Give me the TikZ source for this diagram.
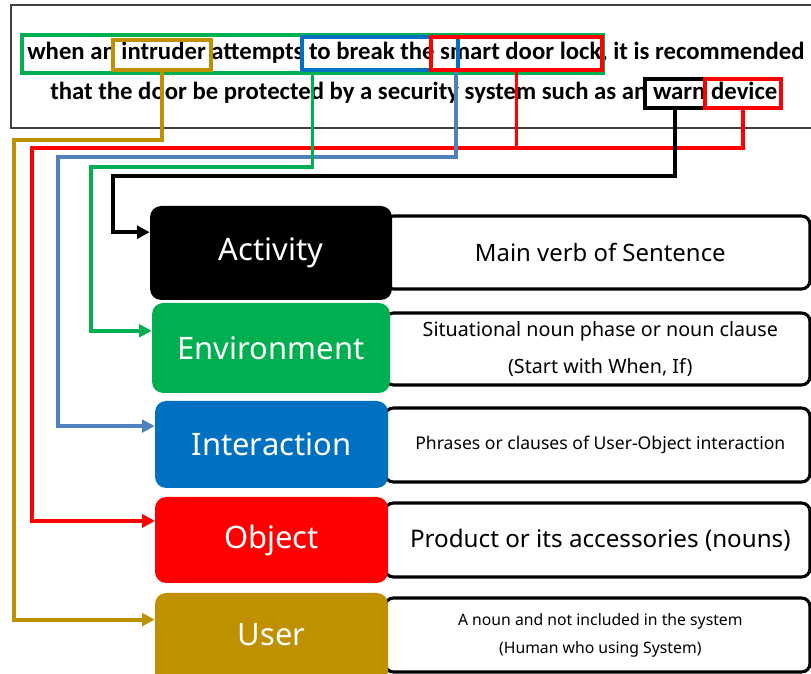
\documentclass[tikz,border=0pt]{standalone}
\usepackage{fontspec}
\setmainfont{Noto Sans}
\newfontfamily\sentfont{Carlito}
\usetikzlibrary{fit,calc,arrows.meta}

\definecolor{envgreen}{HTML}{00B050}
\definecolor{intblue}{HTML}{0070C0}
\definecolor{linkblue}{HTML}{4F81BD}
\definecolor{objred}{HTML}{FF0000}
\definecolor{usergold}{HTML}{BF9000}

\tikzset{
  wordframe/.style={draw=#1, line width=2.5pt, inner sep=0pt},
  sentline/.style={anchor=west, inner sep=0pt, font=\sentfont\bfseries\fontsize{17.6}{20}\selectfont},
  role/.style={fill=#1, rounded corners=8pt, inner sep=0pt},
  rolename/.style={text=white, inner sep=0pt, font=\fontsize{22}{26}\selectfont},
  meaning/.style={draw=black, line width=2.2pt, rounded corners=6pt, fill=white, inner sep=0pt},
  gloss/.style={align=center, inner sep=0pt, xshift=2pt},
  link/.style={draw=#1, line width=2.7pt, -{Triangle[length=9pt,width=9pt]}}
}

\begin{document}
\begin{tikzpicture}[x=0.025cm, y=-0.025cm]
    \useasboundingbox (0,0) rectangle (811,674);
    % sentence
    \node[draw=black!75, line width=1.2pt, inner sep=0pt, fit={(11,5) (840,128)}] (sentence) {};
    \node[sentline] (lineone) at (27,53)
        {when an intruder attempts to break the smart door lock, it is recommended};
    \node[sentline] (linetwo) at (50,93)
        {that the door be protected by a security system such as an warn device};
    \node[wordframe=envgreen, fit={(22,35) (603,73)}] (whenframe) {};
    \node[wordframe=usergold, fit={(113,40) (211,70)}] (intruder) {};
    \node[wordframe=intblue, fit={(302,37) (458,70)}] (tobreak) {};
    \node[wordframe=objred, fit={(431,37) (602,70)}] (doorlock) {};
    \node[wordframe=black, fit={(645,79) (705,108)}] (warn) {};
    \node[wordframe=objred, fit={(705,79) (781,108)}] (device) {};
    % meanings
    \node[meaning, fit={(385,216) (810,289)},
        label={[gloss, font=\fontsize{17}{20}\selectfont]center:Main verb of Sentence}] (mainverb) {};
    \node[meaning, fit={(385,313) (810,385)},
        label={[gloss, font=\fontsize{14}{26}\selectfont]center:Situational noun phase or noun clause\\(Start with When, If)}] (situation) {};
    \node[meaning, fit={(385,408) (810,482)},
        label={[gloss, font=\fontsize{12.5}{15}\selectfont]center:Phrases or clauses of User-Object interaction}] (phrases) {};
    \node[meaning, fit={(385,503) (810,577)},
        label={[gloss, font=\fontsize{17.2}{20}\selectfont]center:Product or its accessories (nouns)}] (product) {};
    \node[meaning, fit={(385,598) (810,672)},
        label={[gloss, font=\fontsize{11.2}{20}\selectfont]center:A noun and not included in the system\\(Human who using System)}] (anoun) {};
    % roles
    \node[role=black, fit={(150,206) (392,300)}, label={[rolename]center:Activity}] (activity) {};
    \node[role=envgreen, fit={(152,303) (390,393)}, label={[rolename]center:Environment}] (environment) {};
    \node[role=intblue, fit={(155,401) (388,488)}, label={[rolename]center:Interaction}] (interaction) {};
    \node[role=objred, fit={(155,497) (388,583)}, label={[rolename]center:Object}] (object) {};
    \node[role=usergold, fit={(155,593) (388,700)}] (user) {};
    \node[rolename] (username) at (271.5,635) {User};
    % links
    \draw[link=usergold] (intruder.south) |- (14,140) |- ($(user.north west)!0.25!(user.south west)$);
    \draw[link=objred] (device.south) |- (32,148) |- ($(object.north west)!0.28!(object.south west)$);
    \draw[link=objred] (doorlock.south) |- (32,148) |- ($(object.north west)!0.28!(object.south west)$);
    \draw[link=linkblue] ($(tobreak.south east)+(-4,0)$) |- (58,157) |- ($(interaction.north west)!0.29!(interaction.south west)$);
    \draw[link=envgreen] (whenframe.south) |- (91,167) |- ($(environment.north west)!0.31!(environment.south west)$);
    \draw[link=black] (warn.south) |- (113,176) |- ($(activity.north west)!0.28!(activity.south west)$);
\end{tikzpicture}
\end{document}
